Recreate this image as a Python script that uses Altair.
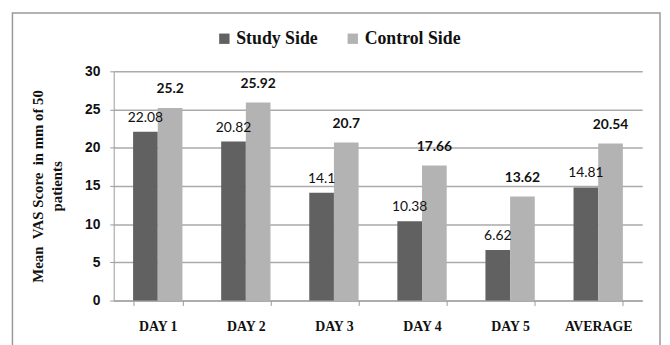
import altair as alt
import pandas as pd

categories = ["DAY 1", "DAY 2", "DAY 3", "DAY 4", "DAY 5", "AVERAGE"]
study_side = [22.08, 20.82, 14.1, 10.38, 6.62, 14.81]
control_side = [25.2, 25.92, 20.7, 17.66, 13.62, 20.54]
series_names = ["Study Side", "Control Side"]
series_colors = ["#616161", "#b3b3b3"]
y_ticks = [0, 5, 10, 15, 20, 25, 30]

rows = []
for c, s, k in zip(categories, study_side, control_side):
    rows.append({"cat": c, "series": series_names[0], "value": s, "label": f"{s:g}"})
    rows.append({"cat": c, "series": series_names[1], "value": k, "label": f"{k:g}"})
df = pd.DataFrame(rows)

W, H = 535, 232
NB = "\u00a0"

x_enc = alt.X("cat:N", sort=categories,
              scale=alt.Scale(paddingInner=0.44, paddingOuter=0.22),
              axis=alt.Axis(title=None, labelAngle=0, labelFont="Liberation Serif",
                            labelFontWeight="bold", labelFontSize=14, labelColor="#111",
                            labelPadding=14, tickBand="extent", tickSize=5,
                            tickColor="#999", domainColor="#999", grid=False))
y_enc = alt.Y("value:Q", scale=alt.Scale(domain=[0, 30]),
              axis=alt.Axis(values=y_ticks, labelOverlap=False,
                            title=[f"Mean {NB}VAS Score {NB}in mm of 50", "patients"],
                            titleFont="Liberation Serif", titleFontWeight="bold",
                            titleFontSize=15, titleColor="#111", titlePadding=20,
                            titleLineHeight=19,
                            labelFont="Liberation Sans", labelFontWeight="bold",
                            labelFontSize=14, labelColor="#111", labelPadding=10,
                            tickSize=4, tickColor="#999", domainColor="#999",
                            gridColor="#aaaaaa", gridWidth=1.5))
color_enc = alt.Color("series:N", sort=series_names,
                      scale=alt.Scale(domain=series_names, range=series_colors),
                      legend=alt.Legend(title=None, orient="none", direction="horizontal",
                                        legendX=103, legendY=-42, symbolType="square",
                                        symbolSize=110, symbolStrokeWidth=0,
                                        labelFont="Liberation Serif", labelFontWeight="bold",
                                        labelFontSize=18, labelColor="#111",
                                        columnPadding=26, labelOffset=3))
xo = alt.XOffset("series:N", sort=series_names)

bars = alt.Chart(df).mark_bar().encode(x=x_enc, xOffset=xo, y=y_enc, color=color_enc)

study_text = alt.Chart(df).transform_filter(alt.datum.series == "Study Side").mark_text(
    font="Lato", fontSize=14, color="#111", dy=-14, baseline="middle").encode(
    x=x_enc, xOffset=xo, y=y_enc, text="label:N")

control_text = alt.Chart(df).transform_filter(alt.datum.series == "Control Side").mark_text(
    font="Lato", fontSize=14, fontWeight="bold", color="#111", dy=-19, baseline="middle").encode(
    x=x_enc, xOffset=xo, y=y_enc, text="label:N")

frame = alt.Chart(pd.DataFrame({"a": [0]})).mark_rect(
    fill=None, stroke="#999999", strokeWidth=1.5).encode(
    x=alt.value(-102.5), x2=alt.value(553), y=alt.value(-59), y2=alt.value(300))

chart = alt.layer(frame, bars, study_text, control_text).properties(
    width=W, height=H,
    padding={"left": 107, "top": 62, "right": 20, "bottom": 50},
    autosize=alt.AutoSizeParams(type="none"),
).configure_view(stroke=None)

chart.save("out.html", embed_options={"renderer": "svg", "actions": False})
